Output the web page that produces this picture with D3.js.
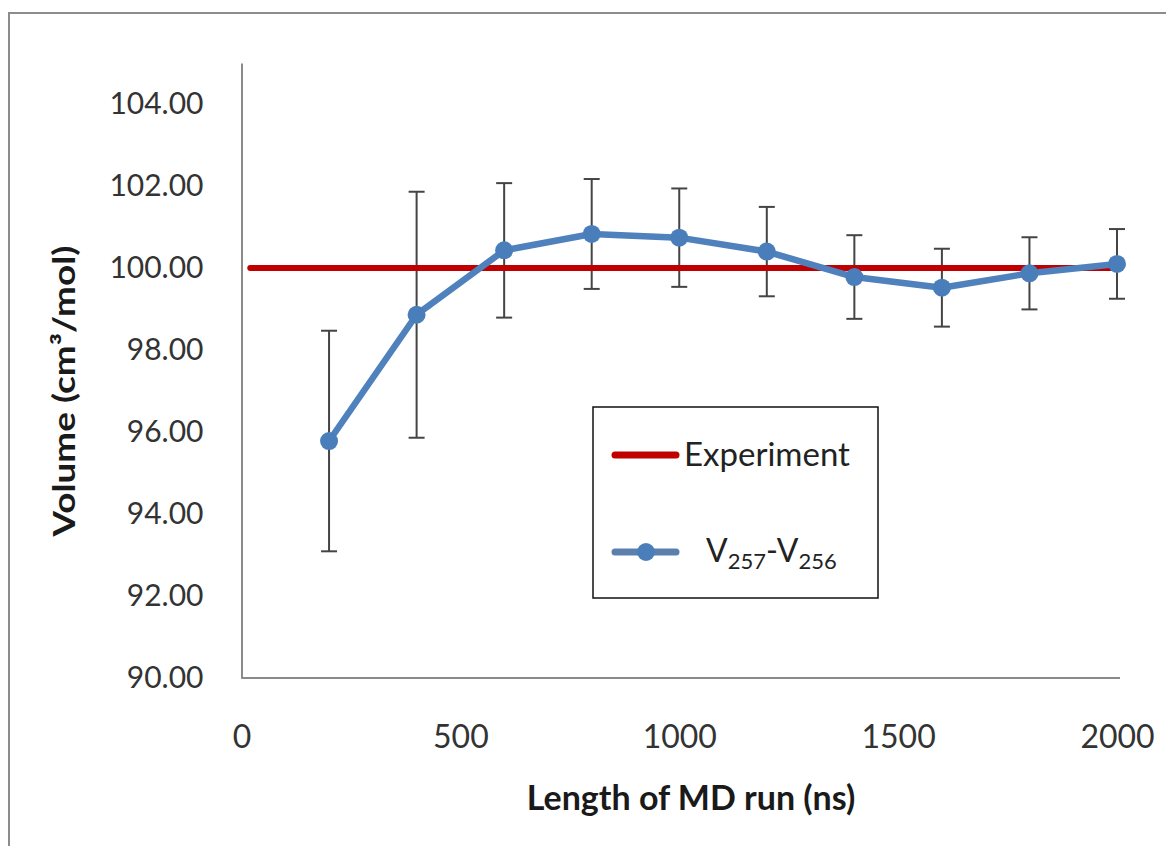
<!DOCTYPE html>
<html>
<head>
<meta charset="utf-8">
<script src="https://cdn.jsdelivr.net/npm/d3@7"></script>
<style>
  html, body { margin: 0; padding: 0; background: #fff; }
  svg { display: block; }
  text { font-family: Lato, "Open Sans", sans-serif; }
</style>
</head>
<body>
<svg id="chart" width="1166" height="846"></svg>
<script>
// ---- data ----
const lengths = [200, 400, 600, 800, 1000, 1200, 1400, 1600, 1800, 2000];
const volumes = [95.78, 98.86, 100.43, 100.83, 100.74, 100.40, 99.78, 99.52, 99.87, 100.10];
const errors  = [2.69, 3.00, 1.64, 1.34, 1.20, 1.09, 1.02, 0.95, 0.88, 0.85];
const experimentX = [20, 2000];
const experimentValue = [100, 100];
const yTicks = [90, 92, 94, 96, 98, 100, 102, 104];
const xTicks = [0, 500, 1000, 1500, 2000];
const seriesNames = ["Experiment", "V257-V256"];

const svg = d3.select("#chart");
const W = 1166, H = 846;

// outer chart border
svg.append("rect")
  .attr("x", 9).attr("y", 13).attr("width", W).attr("height", H)
  .attr("fill", "#fff").attr("stroke", "#8c8c8c").attr("stroke-width", 2);

const x = d3.scaleLinear().domain([0, 2000]).range([241.5, 1117]);
const y = d3.scaleLinear().domain([90, 105]).range([678, 63]);

// axes
const yAxis = d3.axisLeft(y).tickValues(yTicks).tickSize(0).tickPadding(38)
  .tickFormat(d3.format(".2f"));
const gy = svg.append("g").attr("transform", `translate(${x(0)},0)`).call(yAxis);
gy.select(".domain").attr("stroke", "#8a8a8a").attr("stroke-width", 2);
gy.selectAll("text").attr("font-size", 30).attr("fill", "#333")
  .style("font-family", "Lato, 'Open Sans', sans-serif");

const xAxis = d3.axisBottom(x).tickValues(xTicks).tickSize(0).tickPadding(47)
  .tickFormat(d3.format("d"));
const gx = svg.append("g").attr("transform", `translate(0,${y(90)})`).call(xAxis);
gx.select(".domain").attr("stroke", "#8a8a8a").attr("stroke-width", 2)
  .attr("d", `M${x(0)},0H${x(2000) + 3}`);
gx.selectAll("text").attr("font-size", 32).attr("fill", "#333")
  .attr("dy", 0).attr("y", 70)
  .style("font-family", "Lato, 'Open Sans', sans-serif");

// axis titles
svg.append("text")
  .attr("x", 691).attr("y", 810)
  .attr("text-anchor", "middle")
  .attr("font-size", 34).attr("font-weight", "bold").attr("fill", "#1a1a1a")
  .text("Length of MD run (ns)");

svg.append("text")
  .attr("transform", "translate(75,391) rotate(-90)")
  .attr("text-anchor", "middle")
  .attr("font-size", 30).attr("font-weight", "bold").attr("fill", "#1a1a1a")
  .attr("textLength", 291).attr("lengthAdjust", "spacingAndGlyphs")
  .text("Volume (cm³/mol)");

// data table for the measured series
const pts = lengths.map((l, i) => ({ x: l, v: volumes[i], e: errors[i] }));

// error bars
const eb = svg.append("g").attr("stroke", "#444").attr("stroke-width", 2);
const capW = 8;
pts.forEach(p => {
  const cx = x(p.x), y1 = y(p.v + p.e), y2 = y(p.v - p.e);
  eb.append("line").attr("x1", cx).attr("x2", cx).attr("y1", y1).attr("y2", y2);
  eb.append("line").attr("x1", cx - capW).attr("x2", cx + capW).attr("y1", y1).attr("y2", y1);
  eb.append("line").attr("x1", cx - capW).attr("x2", cx + capW).attr("y1", y2).attr("y2", y2);
});

// experiment line
const expPts = experimentX.map((d, i) => ({ x: d, v: experimentValue[i] }));
const line = d3.line().x(d => x(d.x)).y(d => y(d.v));
svg.append("path").datum(expPts)
  .attr("d", line).attr("fill", "none")
  .attr("stroke", "#C00000").attr("stroke-width", 6).attr("stroke-linecap", "round");

// simulated series
svg.append("path").datum(pts)
  .attr("d", line).attr("fill", "none")
  .attr("stroke", "#4F81BD").attr("stroke-width", 6.5)
  .attr("stroke-linejoin", "round").attr("stroke-linecap", "round");
svg.append("g").selectAll("circle").data(pts).join("circle")
  .attr("cx", d => x(d.x)).attr("cy", d => y(d.v)).attr("r", 9)
  .attr("fill", "#4A7EBB");

// legend
const lg = svg.append("g");
lg.append("rect").attr("x", 593).attr("y", 407).attr("width", 285).attr("height", 191)
  .attr("fill", "#fff").attr("stroke", "#111").attr("stroke-width", 1.5);
lg.append("line").attr("x1", 615).attr("x2", 676).attr("y1", 455).attr("y2", 455)
  .attr("stroke", "#C00000").attr("stroke-width", 7).attr("stroke-linecap", "round");
lg.append("text").attr("x", 684).attr("y", 466).attr("font-size", 33).attr("fill", "#222")
  .text(seriesNames[0]);
lg.append("line").attr("x1", 615).attr("x2", 676).attr("y1", 552).attr("y2", 552)
  .attr("stroke", "#5B80AE").attr("stroke-width", 7).attr("stroke-linecap", "round");
lg.append("circle").attr("cx", 646).attr("cy", 552).attr("r", 9).attr("fill", "#4A7EBB");
const vt = lg.append("text").attr("x", 706).attr("y", 562).attr("fill", "#222").attr("font-size", 32);
vt.append("tspan").text("V");
vt.append("tspan").attr("dy", 7).attr("font-size", 22).text("257");
vt.append("tspan").attr("dy", -7).attr("font-size", 32).text("-");
vt.append("tspan").text("V");
vt.append("tspan").attr("dy", 7).attr("font-size", 22).text("256");
</script>
</body>
</html>
